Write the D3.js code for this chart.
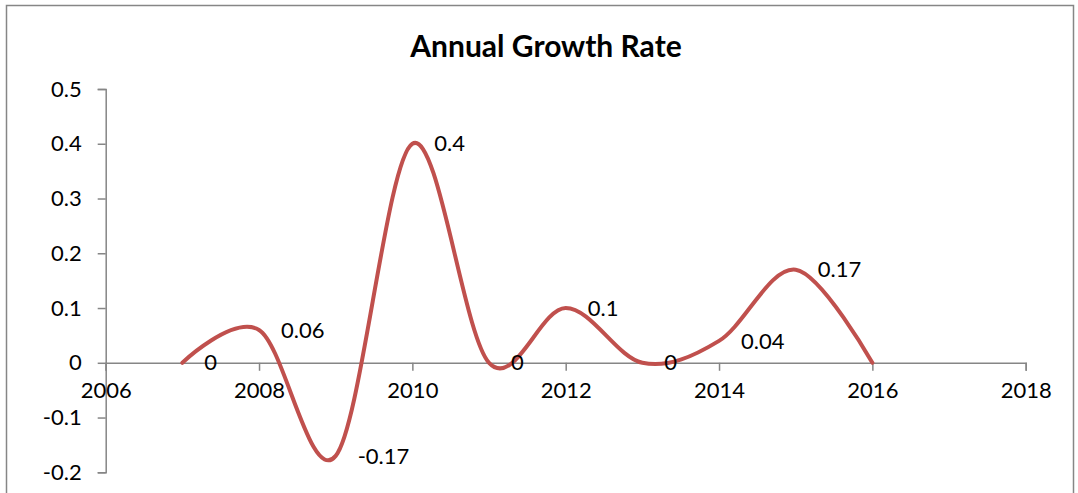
<!DOCTYPE html>
<html>
<head>
<meta charset="utf-8">
<script src="https://cdn.jsdelivr.net/npm/d3@7"></script>
<style>
  html, body { margin: 0; padding: 0; background: #fff; }
  svg { display: block; }
  text { font-family: Lato, "Open Sans", sans-serif; fill: #000; }
</style>
</head>
<body>
<svg id="chart" width="1078" height="493"></svg>
<script>
const chartTitle = "Annual Growth Rate";
const years = [2007, 2008, 2009, 2010, 2011, 2012, 2013, 2014, 2015, 2016];
const growth = [0, 0.06, -0.17, 0.4, 0, 0.1, 0, 0.04, 0.17, 0];
const dataLabels = ["0", "0.06", "-0.17", "0.4", "0", "0.1", "0", "0.04", "0.17", ""];
const xTicks = [2006, 2008, 2010, 2012, 2014, 2016, 2018];
const yTicks = [-0.2, -0.1, 0, 0.1, 0.2, 0.3, 0.4, 0.5];
const yTickLabels = ["-0.2", "-0.1", "0", "0.1", "0.2", "0.3", "0.4", "0.5"];

const svg = d3.select("#chart");
const axisColor = "#868686";
const lineColor = "#C0504D";

// chart border
svg.append("rect")
  .attr("x", 6.5).attr("y", 5.5)
  .attr("width", 1067).attr("height", 520)
  .attr("fill", "#fff").attr("stroke", axisColor).attr("stroke-width", 1.5);

const x = d3.scaleLinear().domain([2006, 2018]).range([105.7, 1025.7]);
const y = d3.scaleLinear().domain([-0.2, 0.5]).range([472.3, 89]);

// title
svg.append("text")
  .attr("x", 546).attr("y", 57)
  .attr("text-anchor", "middle")
  .style("font-weight", "bold").style("font-size", "30px")
  .text(chartTitle);

// y axis
const yAxis = d3.axisLeft(y).tickValues(yTicks).tickSize(8).tickPadding(16)
  .tickFormat((d, i) => yTickLabels[i]);
const gy = svg.append("g").attr("transform", `translate(${x(2006)},0)`).call(yAxis);
gy.select(".domain").attr("stroke", axisColor).attr("stroke-width", 1.5);
gy.selectAll(".tick line").attr("stroke", axisColor).attr("stroke-width", 1.5);
gy.selectAll(".tick text").style("font-size", "22px").style("font-family", "Lato, sans-serif").attr("fill", "#000");

// x axis at y=0
const xAxis = d3.axisBottom(x).tickValues(xTicks).tickSize(8).tickPadding(12)
  .tickFormat(d3.format("d"));
const gx = svg.append("g").attr("transform", `translate(0,${y(0)})`).call(xAxis);
gx.select(".domain").attr("stroke", axisColor).attr("stroke-width", 1.5);
gx.selectAll(".tick line").attr("stroke", axisColor).attr("stroke-width", 1.5);
gx.selectAll(".tick text").style("font-size", "22px").style("font-family", "Lato, sans-serif").attr("fill", "#000");

// smoothed line
const pts = years.map((yr, i) => ({ yr, v: growth[i], label: dataLabels[i] }));
const line = d3.line()
  .x(d => x(d.yr)).y(d => y(d.v))
  .curve(d3.curveCardinal.tension(0));
svg.append("path")
  .datum(pts)
  .attr("d", line)
  .attr("fill", "none")
  .attr("stroke", lineColor)
  .attr("stroke-width", 4)
  .attr("stroke-linecap", "round");

// data labels (right of point)
svg.selectAll(".dlabel")
  .data(pts.filter(d => d.label !== ""))
  .enter().append("text")
  .attr("class", "dlabel")
  .attr("x", d => x(d.yr) + 22)
  .attr("y", d => y(d.v))
  .attr("dy", "0.35em")
  .style("font-size", "22px")
  .text(d => d.label);
</script>
</body>
</html>
